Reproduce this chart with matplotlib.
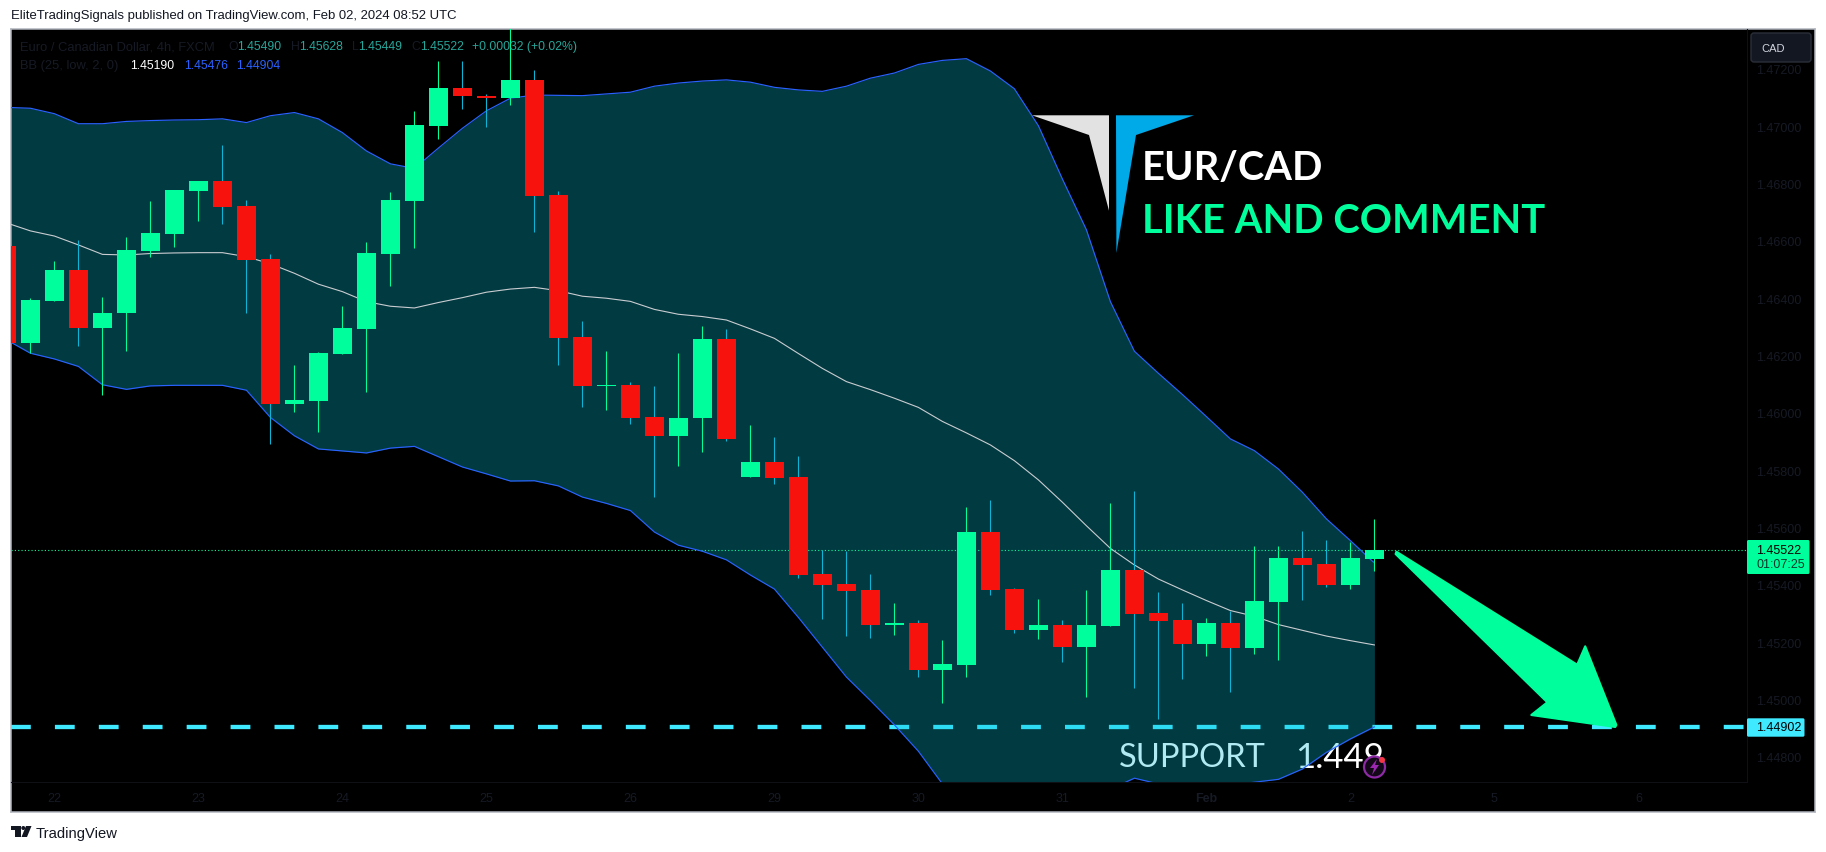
import matplotlib
matplotlib.use('Agg')
import matplotlib.pyplot as plt
import numpy as np
from matplotlib.patches import Polygon, Circle, FancyBboxPatch
from matplotlib.transforms import Affine2D

W, H = 1826, 853

# candles, first one is cut by the left edge of the chart
opens = [1.46582, 1.46242, 1.46392, 1.46499, 1.46297, 1.46347, 1.46566, 1.46624, 1.46775, 1.46809,
         1.46722, 1.46537, 1.46032, 1.46043, 1.46207, 1.46294, 1.46556, 1.46741, 1.47002, 1.47134,
         1.47106, 1.47100, 1.47162, 1.46760, 1.46265, 1.46094, 1.46097, 1.45986, 1.45920, 1.45982,
         1.46258, 1.45776, 1.45829, 1.45776, 1.45438, 1.45403, 1.45382, 1.45260, 1.45267, 1.45103,
         1.45120, 1.45584, 1.45385, 1.45242, 1.45260, 1.45183, 1.45256, 1.45452, 1.45302, 1.45277,
         1.45193, 1.45267, 1.45179, 1.45340, 1.45494, 1.45473, 1.45399, 1.45490]
highs = [1.46600, 1.46401, 1.46530, 1.46603, 1.46404, 1.46614, 1.46739, 1.46778, 1.46809, 1.46935,
         1.46743, 1.46554, 1.46167, 1.46214, 1.46373, 1.46596, 1.46771, 1.47054, 1.47228, 1.47228,
         1.47113, 1.47345, 1.47197, 1.46774, 1.46321, 1.46216, 1.46107, 1.46094, 1.46209, 1.46303,
         1.46293, 1.45958, 1.45916, 1.45849, 1.45521, 1.45518, 1.45438, 1.45336, 1.45277, 1.45207,
         1.45672, 1.45696, 1.45389, 1.45350, 1.45277, 1.45382, 1.45685, 1.45727, 1.45375, 1.45336,
         1.45284, 1.45310, 1.45535, 1.45535, 1.45588, 1.45556, 1.45549, 1.45628]
lows = [1.46230, 1.46208, 1.46392, 1.46235, 1.46064, 1.46217, 1.46545, 1.46580, 1.46671, 1.46660,
        1.46350, 1.45891, 1.46004, 1.45934, 1.46207, 1.46074, 1.46444, 1.46577, 1.46957, 1.47062,
        1.46999, 1.47076, 1.46632, 1.46168, 1.46022, 1.46011, 1.45962, 1.45708, 1.45816, 1.45862,
        1.45900, 1.45776, 1.45752, 1.45424, 1.45281, 1.45221, 1.45214, 1.45225, 1.45078, 1.44987,
        1.45078, 1.45364, 1.45232, 1.45211, 1.45131, 1.45008, 1.45256, 1.45040, 1.44932, 1.45071,
        1.45152, 1.45026, 1.45159, 1.45139, 1.45347, 1.45392, 1.45385, 1.45449]
closes = [1.46242, 1.46394, 1.46499, 1.46297, 1.46349, 1.46568, 1.46628, 1.46778, 1.46809, 1.46720,
          1.46535, 1.46032, 1.46045, 1.46209, 1.46296, 1.46558, 1.46743, 1.47005, 1.47134, 1.47104,
          1.47099, 1.47162, 1.46758, 1.46262, 1.46095, 1.46098, 1.45982, 1.45920, 1.45982, 1.46258,
          1.45909, 1.45829, 1.45773, 1.45435, 1.45399, 1.45378, 1.45260, 1.45267, 1.45103, 1.45124,
          1.45584, 1.45382, 1.45242, 1.45260, 1.45183, 1.45260, 1.45452, 1.45298, 1.45274, 1.45193,
          1.45267, 1.45179, 1.45343, 1.45494, 1.45469, 1.45399, 1.45494, 1.45522]

# bollinger bands
bb_upper = [1.47066, 1.47063, 1.47044, 1.47009, 1.47009, 1.47017, 1.47020, 1.47022, 1.47023, 1.47026,
            1.47013, 1.47037, 1.47048, 1.47026, 1.46978, 1.46914, 1.46869, 1.46853, 1.46924, 1.46993,
            1.47054, 1.47098, 1.47109, 1.47108, 1.47107, 1.47113, 1.47119, 1.47140, 1.47151, 1.47158,
            1.47162, 1.47154, 1.47136, 1.47127, 1.47122, 1.47140, 1.47168, 1.47186, 1.47216, 1.47230,
            1.47236, 1.47193, 1.47131, 1.47002, 1.46816, 1.46639, 1.46388, 1.46215, 1.46138, 1.46064,
            1.45987, 1.45909, 1.45868, 1.45804, 1.45723, 1.45630, 1.45554, 1.45476]
bb_basis = [1.46663, 1.46635, 1.46617, 1.46586, 1.46553, 1.46551, 1.46556, 1.46558, 1.46559, 1.46559,
            1.46545, 1.46520, 1.46487, 1.46449, 1.46423, 1.46388, 1.46372, 1.46366, 1.46385, 1.46402,
            1.46421, 1.46432, 1.46438, 1.46426, 1.46407, 1.46400, 1.46389, 1.46361, 1.46344, 1.46336,
            1.46324, 1.46293, 1.46260, 1.46207, 1.46155, 1.46109, 1.46081, 1.46051, 1.46019, 1.45970,
            1.45930, 1.45888, 1.45833, 1.45766, 1.45688, 1.45606, 1.45527, 1.45469, 1.45420, 1.45382,
            1.45345, 1.45310, 1.45290, 1.45261, 1.45241, 1.45221, 1.45205, 1.45190]
bb_lower = [1.46255, 1.46208, 1.46188, 1.46162, 1.46098, 1.46082, 1.46094, 1.46096, 1.46096, 1.46096,
            1.46079, 1.45984, 1.45920, 1.45874, 1.45867, 1.45860, 1.45877, 1.45883, 1.45847, 1.45811,
            1.45787, 1.45762, 1.45763, 1.45745, 1.45706, 1.45684, 1.45659, 1.45584, 1.45538, 1.45517,
            1.45487, 1.45434, 1.45385, 1.45286, 1.45182, 1.45078, 1.44996, 1.44911, 1.44819, 1.44705,
            1.44583, 1.44501, 1.44466, 1.44490, 1.44559, 1.44629, 1.44687, 1.44725, 1.44705, 1.44699,
            1.44697, 1.44701, 1.44711, 1.44721, 1.44757, 1.44815, 1.44862, 1.44904]

price_ticks = [1.448, 1.450, 1.452, 1.454, 1.456, 1.458, 1.460, 1.462, 1.464, 1.466, 1.468, 1.470, 1.472]
date_ticks = [1, 7, 13, 19, 25, 31, 37, 43, 49, 55, 61, 67]
date_labels = ['22', '23', '24', '25', '26', '29', '30', '31', 'Feb', '2', '5', '6']

last_price = 1.45522
support = 1.44902

GREEN = '#00ff9c'
RED = '#f8120e'
WICK_DOWN = '#0cb4d6'
CYAN = '#3fe9ff'
BLUE = '#2962ff'
FAINT = '#161a24'
FOOT = '#131722'

plt.rcParams['font.family'] = ['Liberation Sans', 'DejaVu Sans']

fig = plt.figure(figsize=(W / 100, H / 100), dpi=100, facecolor='white')


def box(x0, y0, x1, y1):
    return [x0 / W, 1 - y1 / H, (x1 - x0) / W, (y1 - y0) / H]


def label(x, y, s, **kw):
    kw.setdefault('va', 'center')
    kw.setdefault('size', 9)
    return fig.text(x / W, 1 - y / H, s, **kw)


# pixel coordinates from the top left, for the drawings made on top of the chart
px = Affine2D().scale(1, -1).translate(0, H)

# black frame with the two scales
bg = fig.add_axes(box(11, 30, 1815, 813), facecolor='black')
bg.set_xticks([])
bg.set_yticks([])
for s in bg.spines.values():
    s.set_color('#b2b5be')
    s.set_linewidth(1.1)

ax = fig.add_axes(box(11, 30, 1747, 783), facecolor='none')
idx = np.arange(-1, 57)
ax.set_xlim((11 - 30.4) / 24, (1747 - 30.4) / 24)
ax.set_ylim(1.47 - (783 - 127.3) / 28654, 1.47 + (127.3 - 30) / 28654)

# the fill is see-through: the text and the line below it turn paler
ax.text((1119 - 11) / 1736, 1 - (758 - 30) / 753, 'SUPPORT', transform=ax.transAxes,
        color='white', family='Lato', size=23.5, va='center', zorder=0.5)
ax.text((1295 - 11) / 1736, 1 - (758 - 30) / 753, '1.449', transform=ax.transAxes,
        color='white', family='Lato', size=25, va='center', zorder=0.5)
ax.axhline(support, color=CYAN, lw=3.1, ls=(0, (4.6, 5.6)), dash_capstyle='butt', zorder=0.7)
ax.fill_between(idx, bb_lower, bb_upper, color='#06bed5', alpha=0.31, lw=0, zorder=1)
ax.axhline(last_price, color=GREEN, lw=0.8, ls=(0, (1, 2)), zorder=1.5)

ax.plot(idx, bb_upper, color=BLUE, lw=0.85, zorder=2)
ax.plot(idx, bb_lower, color=BLUE, lw=0.85, zorder=2)
ax.plot(idx, bb_basis, color='#c9cdd1', lw=0.8, zorder=2)

o = np.array(opens)
c = np.array(closes)
up = c >= o
ax.vlines(idx[up], np.array(lows)[up], np.array(highs)[up], color=GREEN, lw=0.8, zorder=3)
ax.vlines(idx[~up], np.array(lows)[~up], np.array(highs)[~up], color=WICK_DOWN, lw=0.8, zorder=3)
ax.bar(idx[up], (c - o)[up], bottom=o[up], width=0.79, color=GREEN, zorder=4)
ax.bar(idx[~up], (o - c)[~up], bottom=c[~up], width=0.79, color=RED, zorder=4)

ax.yaxis.tick_right()
ax.set_yticks(price_ticks)
ax.set_yticklabels(['%.5f' % p for p in price_ticks])
ax.set_xticks(date_ticks)
ax.set_xticklabels(date_labels)
ax.tick_params(axis='both', length=0, labelcolor=FAINT, labelsize=9)
ax.tick_params(axis='y', pad=6.5)
ax.tick_params(axis='x', pad=7)
ax.get_xticklabels()[8].set_fontweight('bold')
for name in ['left', 'top']:
    ax.spines[name].set_visible(False)
ax.spines['right'].set_color('#0e1016')
ax.spines['bottom'].set_color('#0e1016')
ax.spines['right'].set_linewidth(0.8)
ax.spines['bottom'].set_linewidth(0.8)

# header and footer
label(11, 16, 'EliteTradingSignals published on TradingView.com, Feb 02, 2024 08:52 UTC', color=FOOT, size=9.45)
label(36, 834, 'TradingView', color=FOOT, size=10.6)

# legend rows
label(20.5, 47, 'Euro / Canadian Dollar, 4h, FXCM', color=FAINT, size=9.3)
for x, s in [(228.5, 'O'), (290.5, 'H'), (352, 'L'), (411, 'C')]:
    label(x, 47, s, color=FAINT, size=8.8)
for x, s in [(237.5, '1.45490'), (299, '1.45628'), (358.5, '1.45449'), (420, '1.45522'),
             (471.5, '+0.00032 (+0.02%)')]:
    label(x, 47, s, color='#26a69a', size=8.8)
label(20.5, 66, 'BB (25, low, 2, 0)', color=FAINT, size=9.3)
label(130.5, 66, '1.45190', color='white', size=8.8)
label(184, 66, '1.45476', color=BLUE, size=8.8)
label(236.5, 66, '1.44904', color=BLUE, size=8.8)


def draw(patch):
    patch.set_transform(px)
    fig.add_artist(patch)


# logo
draw(Polygon([(1032, 116.3), (1109, 116.3), (1109, 211.7), (1089, 136)], fc='#e2e2e2', lw=0))
draw(Polygon([(1116, 116.3), (1194, 116.3), (1136, 136), (1116.4, 254)], fc='#00a9e8', lw=0))
label(1142, 168.5, 'EUR/CAD', color='white', family='Lato', size=28.7, weight='bold')
label(1142, 221.5, 'LIKE AND COMMENT', color=GREEN, family='Lato', size=28.7, weight='bold')

# big arrow
draw(Polygon([(1396.4, 552.7), (1577.2, 665.7), (1585.2, 647.3), (1616.4, 726), (1615.2, 728),
              (1531.3, 716), (1547.3, 703.3), (1395.6, 555)],
             fc=GREEN, ec=GREEN, lw=1.5, joinstyle='round'))

# price labels on the scale
draw(FancyBboxPatch((1747, 541), 62.5, 34, boxstyle='round,pad=0,rounding_size=1.5', fc=GREEN, lw=0))
label(1756, 550.5, '1.45522', color='black')
label(1756, 565, '01:07:25', color='#063a2a')
draw(FancyBboxPatch((1747, 719.3), 57.5, 18.4, boxstyle='round,pad=0,rounding_size=1.5', fc=CYAN, lw=0))
label(1756, 728.5, '1.44902', color='black')

# currency button
draw(FancyBboxPatch((1751, 34), 60, 29, boxstyle='round,pad=0,rounding_size=3', fc='#131722', ec='#2a2e39', lw=1))
label(1761.5, 48.5, 'CAD', color='#d1d4dc', size=8)

# bolt marker on the last bar
draw(Circle((1374.5, 768), 10.5, fc='#120818', ec='#8e2aa6', lw=1.6))
draw(Polygon([(1377, 760), (1370, 769), (1374, 769), (1372, 776), (1379, 766), (1375, 766)], fc='#9c27b0', lw=0))
draw(Circle((1382, 761), 3, fc='#f23645', lw=0))

# TradingView mark
draw(Polygon([(11, 827), (20.5, 827), (20.5, 838), (15, 838), (15, 831), (11, 831)], fc=FOOT, lw=0))
draw(Circle((23.3, 829), 2, fc=FOOT, lw=0))
draw(Polygon([(26, 827), (31.5, 827), (27, 838), (21.5, 838)], fc=FOOT, lw=0))

fig.savefig('out.png', dpi=100)
